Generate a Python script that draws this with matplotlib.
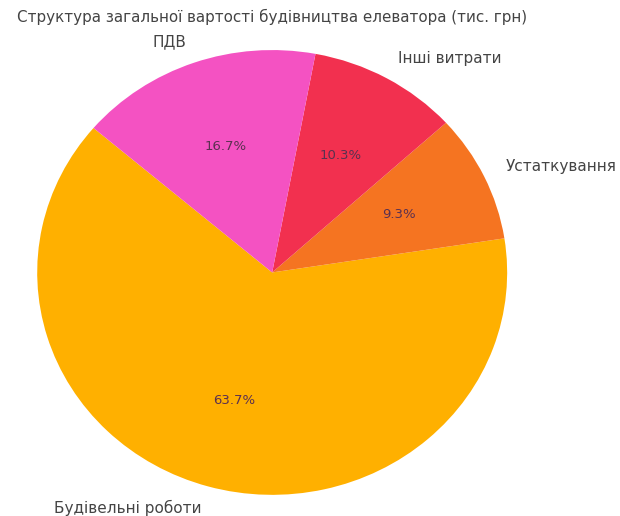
import matplotlib.pyplot as plt

# ! <--- Data --->
categories = ['Будівельні роботи', 'Устаткування', 'Інші витрати', 'ПДВ']
shares = [63.7, 9.3, 10.3, 16.7]
colors = ['#FFB000', '#F57421', '#F2304F', '#F452C2']

fig = plt.figure(figsize = (6.2, 5.16), dpi = 100)
ax = fig.add_axes([0.06, 0.041, 0.758, 0.862])

wedges, texts, autotexts = ax.pie(shares, labels = categories, colors = colors,
                                  autopct = '%1.1f%%', startangle = 139.5,
                                  textprops = {'fontsize': 11, 'color': '#444444'})
for t in autotexts :
    t.set_color('#5a3050')
    t.set_fontsize(9.5)

ax.set_aspect('auto')
ax.set_xlim(-1, 1)
ax.set_ylim(-1, 1)
ax.set_title('Структура загальної вартості будівництва елеватора (тис. грн)',
             fontsize = 10.9, color = '#444444', pad = 20)

fig.savefig('out.png', dpi = 100)
